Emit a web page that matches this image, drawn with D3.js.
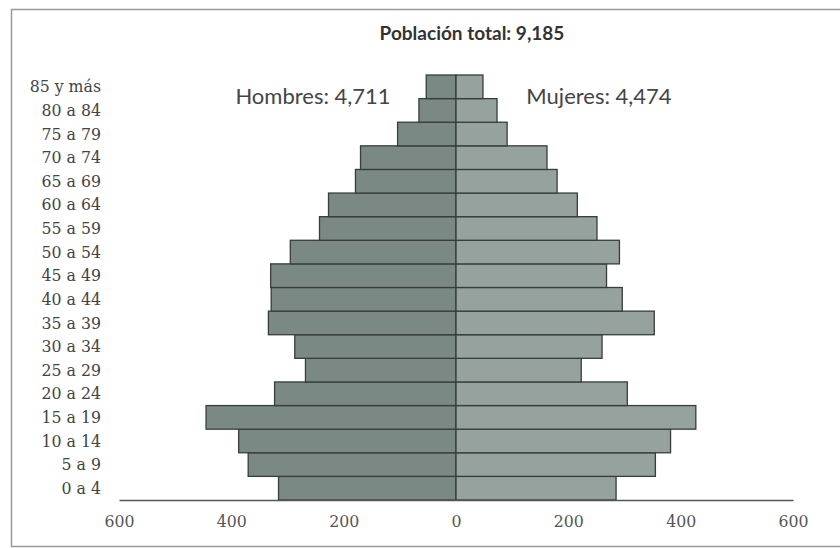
<!DOCTYPE html>
<html><head><meta charset="utf-8">
<script src="https://cdn.jsdelivr.net/npm/d3@7"></script>
<style>body{margin:0;background:#fff}svg{display:block}</style>
</head><body>
<svg id="c" width="840" height="548"></svg>
<script>
const ageGroups = ["0 a 4","5 a 9","10 a 14","15 a 19","20 a 24","25 a 29","30 a 34","35 a 39","40 a 44","45 a 49","50 a 54","55 a 59","60 a 64","65 a 69","70 a 74","75 a 79","80 a 84","85 y más"];
const hombres = [316,370,387,445,323,268,287,334,329,330,295,243,227,179,170,104,66,53];
const mujeres = [285,355,382,427,305,223,260,353,296,268,291,251,216,180,162,91,73,48];
const ticks = [-600,-400,-200,0,200,400,600];
const titleText = "Población total: 9,185";
const hombresText = "Hombres: 4,711";
const mujeresText = "Mujeres: 4,474";

const svg = d3.select("#c");
// frame
svg.append("rect").attr("x",11.5).attr("y",9.5).attr("width",840).attr("height",537)
  .attr("fill","none").attr("stroke","#9a9a9a").attr("stroke-width",1.5);

const x = d3.scaleLinear().domain([-600,600]).range([119,793]);
const y = d3.scaleBand().domain(ageGroups.slice().reverse()).range([75,500]).padding(0);

const serif = "'DejaVu Serif Condensed', 'DejaVu Serif', serif";
const sans = "Lato, 'Open Sans', sans-serif";

// bars
const g = svg.append("g");
g.selectAll("rect.h").data(ageGroups).join("rect").attr("class","h")
  .attr("x",(d,i)=>x(-hombres[i])).attr("y",d=>y(d))
  .attr("width",(d,i)=>x(0)-x(-hombres[i])).attr("height",y.bandwidth())
  .attr("fill","#7b8985").attr("stroke","#363d3b").attr("stroke-width",1.3);
g.selectAll("rect.m").data(ageGroups).join("rect").attr("class","m")
  .attr("x",x(0)).attr("y",d=>y(d))
  .attr("width",(d,i)=>x(mujeres[i])-x(0)).attr("height",y.bandwidth())
  .attr("fill","#95a29e").attr("stroke","#363d3b").attr("stroke-width",1.3);

// axis
const axis = d3.axisBottom(x).tickValues(ticks).tickFormat(d=>Math.abs(d)).tickSize(0).tickPadding(15);
const ax = svg.append("g").attr("transform","translate(0,500)").call(axis);
ax.select(".domain").attr("stroke","#555").attr("stroke-width",1.5);
ax.selectAll("text").attr("font-family",serif).attr("font-size",17.5).attr("fill","#555");

// category labels
const ay = d3.axisLeft(y).tickSize(0).tickPadding(0);
const ag = svg.append("g").attr("transform","translate(101,0)").call(ay);
ag.select(".domain").remove();
ag.selectAll("text").attr("font-family",serif).attr("font-size",17.5).attr("fill","#444");

// titles
svg.append("text").attr("x",472).attr("y",40).attr("text-anchor","middle")
  .attr("font-family",sans).attr("font-weight","bold").attr("font-size",19).attr("fill","#333").text(titleText);
svg.append("text").attr("x",313).attr("y",104).attr("text-anchor","middle")
  .attr("font-family",sans).attr("font-size",22).attr("fill","#444").text(hombresText);
svg.append("text").attr("x",599).attr("y",104).attr("text-anchor","middle")
  .attr("font-family",sans).attr("font-size",22).attr("fill","#444").text(mujeresText);
</script>
</body></html>
